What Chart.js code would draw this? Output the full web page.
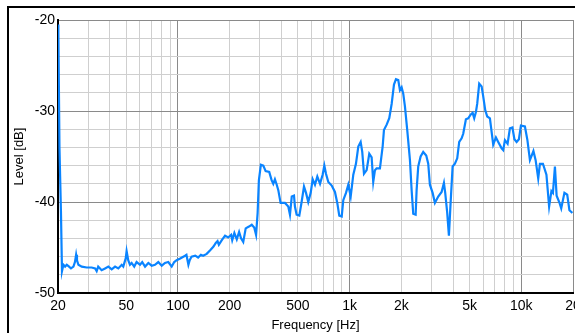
<!DOCTYPE html>
<html>
<head>
<meta charset="utf-8">
<script src="https://cdn.jsdelivr.net/npm/chart.js@4/dist/chart.umd.min.js"></script>
<style>
    html, body { margin: 0; padding: 0; background: #fff; }
    #wrap { position: relative; width: 575px; height: 333px; overflow: hidden; }
    #frame { position: absolute; left: 7px; top: 6px; width: 640px; height: 400px; border: 2px solid #000; }
    #chart { position: absolute; left: 0; top: 0; }
</style>
</head>
<body>
<div id="wrap">
    <div id="frame"></div>
    <canvas id="chart" width="575" height="333"></canvas>
</div>
<script>
// Frekvencia (Hz) és szint (dB) pontok
const freqHz = [
    20, 20.1, 20.4, 20.8, 21.1, 21.5, 22.0, 22.5, 23.2, 23.8, 24.6, 25.1, 25.5, 25.8, 26.3, 27.5,
    29.4, 31.4, 32.9, 33.6, 34.3, 35.9, 37.6, 39.3, 41.1, 43.0, 44.9, 47.0, 48.0, 49.6, 50.2, 51.3,
    52.5, 53.7, 55.6, 57.4, 60.1, 61.9, 64.3, 67.2, 70.3, 73.4, 76.8, 80.4, 84.0, 87.8, 91.9, 95.1,
    98.2, 103, 110, 112, 115, 117, 120, 126, 131, 136, 140, 147, 154, 161, 166, 170,
    173, 180, 188, 196, 204, 207, 213, 220, 227, 233, 240, 248, 259, 269, 278, 285,
    291, 296, 304, 314, 324, 340, 351, 359, 367, 376, 384, 396, 420, 439, 449, 460,
    474, 480, 491, 509, 525, 542, 557, 574, 593, 609, 628, 648, 672, 696, 712, 728,
    751, 786, 821, 847, 870, 899, 918, 952, 982, 1014, 1050, 1088, 1123, 1159, 1184, 1212,
    1256, 1301, 1343, 1372, 1404, 1436, 1501, 1557, 1584, 1643, 1701, 1757, 1812, 1861, 1919, 1963,
    2008, 2052, 2099, 2165, 2245, 2296, 2346, 2423, 2455, 2509, 2591, 2682, 2793, 2869, 2934, 3043,
    3138, 3280, 3433, 3541, 3603, 3701, 3786, 3873, 3979, 4104, 4233, 4347, 4490, 4587, 4756, 4905,
    5065, 5204, 5316, 5439, 5535, 5685, 5871, 5998, 6162, 6329, 6562, 6714, 6859, 7113, 7336, 7677,
    7843, 8025, 8319, 8581, 8873, 9115, 9388, 9682, 9946, 10494, 10851, 11222, 11763, 12115, 12544, 12833,
    13362, 14004, 14520, 14975, 15278, 15694, 16056, 16625, 17079, 17827, 18509, 19062, 19839
];
const levelDb = [
    -20.5, -21.4, -34.1, -40.9, -47.6, -46.9, -47.1, -46.9, -47.1, -47.3, -47.1, -46.6, -45.8, -46.4, -46.9, -47.1,
    -47.2, -47.2, -47.3, -47.6, -47.1, -47.5, -47.3, -47.1, -47.4, -47.1, -47.3, -46.9, -47.1, -46.2, -45.4, -46.4,
    -46.9, -46.7, -47.1, -46.6, -46.9, -46.6, -47.1, -46.7, -47.0, -46.9, -46.6, -47.0, -46.7, -46.6, -47.1, -46.6,
    -46.4, -46.2, -45.9, -45.8, -46.9, -46.4, -46.0, -45.9, -46.1, -45.8, -45.9, -45.7, -45.3, -44.9, -44.5, -44.3,
    -44.7, -44.2, -43.7, -43.9, -43.6, -44.2, -43.4, -44.1, -43.3, -44.0, -44.4, -42.9, -42.7, -42.5, -42.8, -43.6,
    -41.2, -37.6, -35.9, -36.0, -36.6, -36.7, -37.6, -38.0, -37.5, -38.1, -38.7, -40.1, -40.1, -40.5, -41.4, -39.4,
    -39.3, -40.5, -41.4, -41.5, -40.0, -38.3, -39.0, -40.0, -39.0, -37.5, -38.1, -37.2, -38.0, -37.0, -36.0, -36.9,
    -37.8, -38.2, -38.9, -40.1, -41.5, -41.6, -39.8, -39.0, -38.1, -39.4, -37.0, -35.8, -33.9, -33.4, -34.5, -36.9,
    -36.5, -34.7, -35.1, -37.8, -36.5, -36.3, -36.3, -33.9, -32.1, -31.5, -30.8, -29.2, -27.1, -26.5, -26.6, -27.7,
    -27.4, -28.1, -29.5, -32.1, -35.4, -38.7, -41.3, -41.4, -38.7, -36.1, -35.0, -34.5, -34.9, -35.8, -38.1, -39.0,
    -40.1, -39.4, -38.9, -37.9, -39.0, -41.2, -43.7, -40.1, -36.1, -35.8, -35.2, -33.4, -33.0, -32.5, -30.9, -30.8,
    -30.4, -30.2, -30.8, -30.1, -29.2, -27.0, -27.3, -28.4, -29.9, -30.6, -30.8, -32.3, -33.7, -32.9, -33.4, -34.1,
    -34.3, -33.2, -33.6, -31.9, -31.8, -33.1, -33.4, -33.1, -31.6, -31.7, -33.2, -35.4, -34.4, -35.4, -37.4, -35.8,
    -35.8, -37.0, -40.5, -38.8, -39.0, -36.1, -39.3, -40.0, -40.7, -39.0, -39.2, -40.9, -41.2
];

// Tengely beosztások
const gridFreqs = [20, 30, 40, 50, 60, 70, 80, 90, 100, 200, 300, 400, 500, 600, 700, 800, 900,
    1000, 2000, 3000, 4000, 5000, 6000, 7000, 8000, 9000, 10000, 20000];
const xTickValues = [20, 50, 100, 200, 500, 1000, 2000, 5000, 10000, 20000];
const xTickLabels = ['20', '50', '100', '200', '500', '1k', '2k', '5k', '10k', '20'];
const yMin = -50;
const yMax = -20;
const yStep = 2;
const yLabelStep = 10;

const points = freqHz.map((f, i) => ({ x: f, y: levelDb[i] }));

const darkGrid = '#8a8a8a';
const lightGrid = '#cfcfcf';

const ctx = document.getElementById('chart').getContext('2d');
new Chart(ctx, {
    type: 'line',
    data: {
        datasets: [{
            data: points,
            borderColor: '#0a84ff',
            borderWidth: 2.2,
            pointRadius: 0,
            tension: 0,
            fill: false
        }]
    },
    options: {
        responsive: false,
        animation: false,
        devicePixelRatio: 1,
        layout: { padding: { top: 20, right: 2, left: 0, bottom: 0 } },
        plugins: {
            legend: { display: false },
            tooltip: { enabled: false }
        },
        scales: {
            x: {
                type: 'logarithmic',
                min: 20,
                max: 20000,
                afterBuildTicks: scale => {
                    scale.ticks = gridFreqs.map(v => ({ value: v }));
                },
                afterFit: scale => {
                    scale.height = 40;
                    scale.paddingLeft = 0;
                    scale.paddingRight = 0;
                },
                ticks: {
                    autoSkip: false,
                    maxRotation: 0,
                    minRotation: 0,
                    padding: 5,
                    color: '#000',
                    font: { family: 'Liberation Sans', size: 14 },
                    callback: value => {
                        const i = xTickValues.indexOf(value);
                        return i >= 0 ? xTickLabels[i] : '';
                    }
                },
                grid: {
                    drawTicks: false,
                    lineWidth: 1,
                    color: c => {
                        const v = c.tick ? c.tick.value : 0;
                        if (v === 100 || v === 1000 || v === 10000 || v === 20000) return darkGrid;
                        return lightGrid;
                    }
                },
                border: { color: '#000', width: 2 },
                title: {
                    display: true,
                    text: 'Frequency [Hz]',
                    color: '#000',
                    font: { family: 'Liberation Sans', size: 13 },
                    padding: { top: 0, bottom: 0 }
                }
            },
            y: {
                type: 'linear',
                min: yMin,
                max: yMax,
                afterBuildTicks: scale => {
                    const t = [];
                    for (let v = yMin; v <= yMax; v += yStep) t.push({ value: v });
                    scale.ticks = t;
                },
                afterFit: scale => {
                    scale.width = 58;
                },
                ticks: {
                    autoSkip: false,
                    padding: 3,
                    color: '#000',
                    font: { family: 'Liberation Sans', size: 14 },
                    callback: value => (value % yLabelStep === 0 ? String(value) : '')
                },
                grid: {
                    drawTicks: false,
                    lineWidth: 1,
                    color: c => {
                        const v = c.tick ? c.tick.value : 0;
                        return v % yLabelStep === 0 ? darkGrid : lightGrid;
                    }
                },
                border: { color: '#000', width: 2 },
                title: {
                    display: true,
                    text: 'Level [dB]',
                    color: '#000',
                    font: { family: 'Liberation Sans', size: 13 },
                    padding: { top: 12, bottom: 0 }
                }
            }
        }
    }
});
</script>
</body>
</html>
